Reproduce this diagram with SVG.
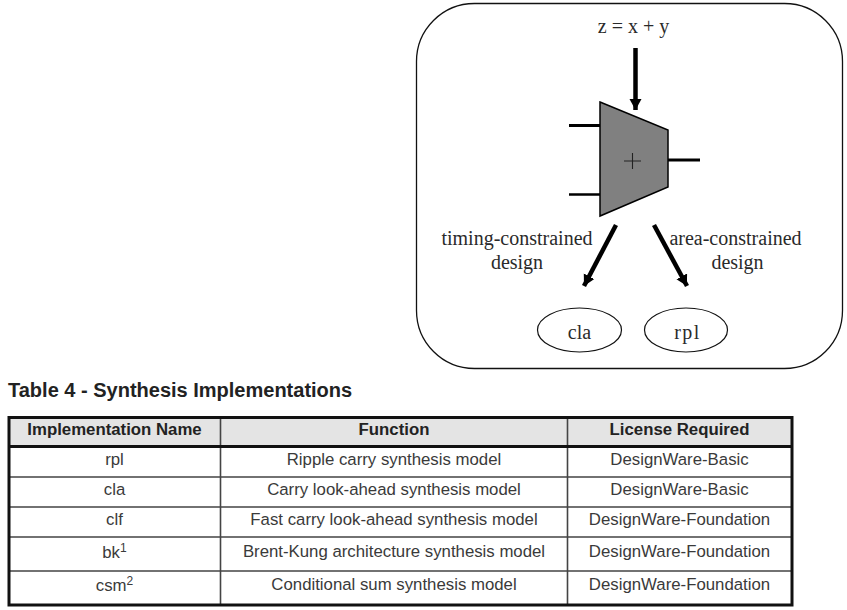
<svg xmlns="http://www.w3.org/2000/svg" width="847" height="610" viewBox="0 0 847 610">
<style>
.s{font-family:"Liberation Serif",serif;font-size:20px;fill:#2a2a2a;text-anchor:middle}
.t{font-family:"Liberation Sans",Arial,sans-serif;font-size:16.8px;fill:#3a3a3a;text-anchor:middle}
.h{font-family:"Liberation Sans",Arial,sans-serif;font-size:16.8px;font-weight:bold;fill:#222;text-anchor:middle}
.sup{font-size:12px}
.w{stroke:#000;fill:none}
.grid{stroke:#444;stroke-width:1.6;fill:none}
</style>
<defs>
<marker id="a" markerUnits="userSpaceOnUse" markerWidth="13" markerHeight="13" refX="11" refY="6" orient="auto"><path d="M0,0L11,6L0,12z" fill="#000"/></marker>
</defs>
<rect width="847" height="610" fill="#fff"/>
<g id="frame"><rect x="416.500" y="3.500" width="426" height="365" rx="58" ry="58" fill="none" stroke="#111" stroke-width="1.300"/></g>
<g id="goal"><text class="s" x="633.500" y="33">z = x + y</text></g>
<g id="adder">
<path d="M600,102L668,130V187L600,216Z" fill="#808080" stroke="#000" stroke-width="1.500"/>
<path d="M624,161H641M632.500,153V169" stroke="#222" stroke-width="1.100" fill="none"/>
</g>
<g id="cla"><ellipse cx="579.500" cy="330" rx="42" ry="22" fill="#fff" stroke="#111" stroke-width="1.200"/><text class="s" x="579.500" y="339">cla</text></g>
<g id="rpl"><ellipse cx="686" cy="330" rx="41.500" ry="22" fill="#fff" stroke="#111" stroke-width="1.200"/><text class="s" x="687.500" y="339" letter-spacing="1.500">rpl</text></g>
<g id="connectors">
<path class="w" stroke-width="3" d="M569,125.500H600"/>
<path class="w" stroke-width="2.500" d="M569,194.500H600"/>
<path class="w" stroke-width="3" d="M668,160H700"/>
<path class="w" stroke-width="4.500" marker-end="url(#a)" d="M635.500,48V110"/>
<path class="w" stroke-width="4.500" marker-end="url(#a)" d="M616,225L584,286"/>
<path class="w" stroke-width="4.500" marker-end="url(#a)" d="M654,225L687,286"/>
</g>
<g id="labels">
<text class="s" x="517" y="245">timing-constrained</text>
<text class="s" x="517" y="269">design</text>
<text class="s" x="735.500" y="245">area-constrained</text>
<text class="s" x="737.500" y="269">design</text>
</g>
<g id="table">
<text x="8" y="397" font-family="'Liberation Sans',Arial,sans-serif" font-size="20" font-weight="bold" fill="#222">Table 4 - Synthesis Implementations</text>
<rect x="9" y="418" width="783" height="28" fill="#e4e4e4"/>
<path class="grid" d="M9,477H792M9,507H792M9,537H792M9,571H792M220.500,416V606M567.500,416V606"/>
<path d="M9,446.500H792" stroke="#111" stroke-width="3" fill="none"/>
<rect x="9" y="417.500" width="783" height="187.500" fill="none" stroke="#111" stroke-width="3"/>
<text class="h" x="114.500" y="435">Implementation Name</text>
<text class="h" x="394" y="435">Function</text>
<text class="h" x="679.500" y="435">License Required</text>
<text class="t" x="114.500" y="465">rpl</text>
<text class="t" x="394" y="465">Ripple carry synthesis model</text>
<text class="t" x="679.500" y="465">DesignWare-Basic</text>
<text class="t" x="114.500" y="495">cla</text>
<text class="t" x="394" y="495">Carry look-ahead synthesis model</text>
<text class="t" x="679.500" y="495">DesignWare-Basic</text>
<text class="t" x="114.500" y="525">clf</text>
<text class="t" x="394" y="525">Fast carry look-ahead synthesis model</text>
<text class="t" x="679.500" y="525">DesignWare-Foundation</text>
<text class="t" x="114.500" y="558">bk<tspan class="sup" dy="-6">1</tspan></text>
<text class="t" x="394" y="557">Brent-Kung architecture synthesis model</text>
<text class="t" x="679.500" y="557">DesignWare-Foundation</text>
<text class="t" x="114.500" y="591">csm<tspan class="sup" dy="-6">2</tspan></text>
<text class="t" x="394" y="590">Conditional sum synthesis model</text>
<text class="t" x="679.500" y="590">DesignWare-Foundation</text>
</g>
</svg>
